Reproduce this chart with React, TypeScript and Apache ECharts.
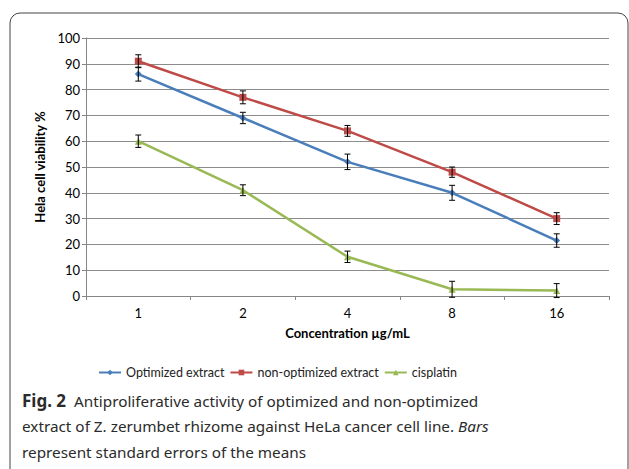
import React, { useEffect, useRef } from "react";
import * as echarts from "echarts";

const categories = ["1", "2", "4", "8", "16"];
const optimized = [86, 69, 52, 40, 21.5];
const optimizedErr = [2.7, 2.2, 3, 2.9, 2.6];
const nonOptimized = [91, 77, 64, 48, 30];
const nonOptimizedErr = [2.5, 2.5, 2.1, 2, 2.3];
const cisplatin = [60, 41, 15.2, 2.6, 2.1];
const cisplatinErr = [2.4, 2.1, 2.2, 3.1, 2.7];

const BLUE = "#4A7EBB";
const RED = "#BE4B48";
const GREEN = "#98B954";
const FONT = "Lato";
const CAP_FONT = "Noto Sans";

function errorSeries(values: number[], errs: number[], z: number) {
  return {
    type: "custom",
    silent: true,
    z,
    data: values.map((v, i) => [i, v - errs[i], v + errs[i]]),
    renderItem: (params: any, api: any) => {
      const x = api.value(0);
      const lo = api.coord([x, api.value(1)]);
      const hi = api.coord([x, api.value(2)]);
      const w = 3;
      const st = { stroke: "#000", lineWidth: 1 };
      return {
        type: "group",
        children: [
          { type: "line", shape: { x1: lo[0], y1: lo[1], x2: hi[0], y2: hi[1] }, style: st },
          { type: "line", shape: { x1: lo[0] - w, y1: lo[1], x2: lo[0] + w, y2: lo[1] }, style: st },
          { type: "line", shape: { x1: hi[0] - w, y1: hi[1], x2: hi[0] + w, y2: hi[1] }, style: st },
        ],
      };
    },
  };
}

export default function App() {
  const ref = useRef<HTMLDivElement>(null);
  useEffect(() => {
    document.body.style.margin = "0";
    const chart = echarts.init(ref.current!, null, { renderer: "svg" });
    const lineCommon = {
      type: "line",
      symbolSize: 7,
      lineStyle: { width: 2.5 },
      z: 3,
    };
    const capColor = "#2b2b2b";
    chart.setOption({
      animation: false,
      backgroundColor: "#fff",
      grid: { left: 86, right: 20, top: 38, bottom: 173 },
      legend: {
        top: 361,
        left: 93,
        itemGap: 5,
        itemWidth: 22,
        itemHeight: 7,
        textStyle: { fontFamily: FONT, fontSize: 12.5, color: "#222" },
        data: ["Optimized extract", "non-optimized extract", "cisplatin"],
      },
      xAxis: {
        type: "category",
        data: categories,
        boundaryGap: true,
        name: "Concentration µg/mL",
        nameLocation: "middle",
        nameGap: 30,
        nameTextStyle: { fontFamily: FONT, fontSize: 13, fontWeight: "bold", color: "#000" },
        axisLine: { lineStyle: { color: "#868686", width: 1 } },
        axisTick: { show: true, length: 4, lineStyle: { color: "#868686" } },
        axisLabel: { fontFamily: FONT, fontSize: 13, color: "#000", margin: 10 },
      },
      yAxis: {
        type: "value",
        min: 0,
        max: 100,
        interval: 10,
        name: "Hela cell viability %",
        nameLocation: "middle",
        nameGap: 34,
        nameTextStyle: { fontFamily: FONT, fontSize: 13, fontWeight: "bold", color: "#000" },
        axisLine: { show: true, lineStyle: { color: "#868686", width: 1 } },
        axisTick: { show: true, length: 4, lineStyle: { color: "#868686" } },
        axisLabel: { fontFamily: FONT, fontSize: 13, color: "#000", margin: 6 },
        splitLine: { lineStyle: { color: "#8c8c8c", width: 1 } },
      },
      series: [
        { ...lineCommon, name: "Optimized extract", data: optimized, symbol: "diamond", color: BLUE },
        { ...lineCommon, name: "non-optimized extract", data: nonOptimized, symbol: "rect", color: RED },
        { ...lineCommon, name: "cisplatin", data: cisplatin, symbol: "triangle", color: GREEN },
        errorSeries(optimized, optimizedErr, 4),
        errorSeries(nonOptimized, nonOptimizedErr, 4),
        errorSeries(cisplatin, cisplatinErr, 4),
      ],
      graphic: [
        {
          type: "rect",
          shape: { x: 10, y: 13, width: 618, height: 500, r: [10, 10, 0, 0] },
          style: { fill: "none", stroke: "#444", lineWidth: 1 },
          silent: true,
        },
        {
          type: "text",
          left: 22,
          top: 392,
          style: {
            text: "{b|Fig. 2}  Antiproliferative activity of optimized and non-optimized",
            font: `15.3px "${CAP_FONT}"`,
            fill: capColor,
            rich: { b: { fontWeight: "bold", fontSize: 17, fontFamily: CAP_FONT, fill: capColor } },
          },
        },
        {
          type: "text",
          left: 22,
          top: 418,
          style: {
            text: "extract of Z. zerumbet rhizome against HeLa cancer cell line. {i|Bars}",
            font: `15.3px "${CAP_FONT}"`,
            fill: capColor,
            rich: { i: { fontStyle: "italic", fontSize: 15.3, fontFamily: CAP_FONT, fill: capColor } },
          },
        },
        {
          type: "text",
          left: 22,
          top: 444,
          style: {
            text: "represent standard errors of the means",
            font: `15.3px "${CAP_FONT}"`,
            fill: capColor,
          },
        },
      ],
    });
    return () => chart.dispose();
  }, []);
  return <div ref={ref} style={{ width: 629, height: 469, position: "absolute", left: 0, top: 0 }} />;
}
